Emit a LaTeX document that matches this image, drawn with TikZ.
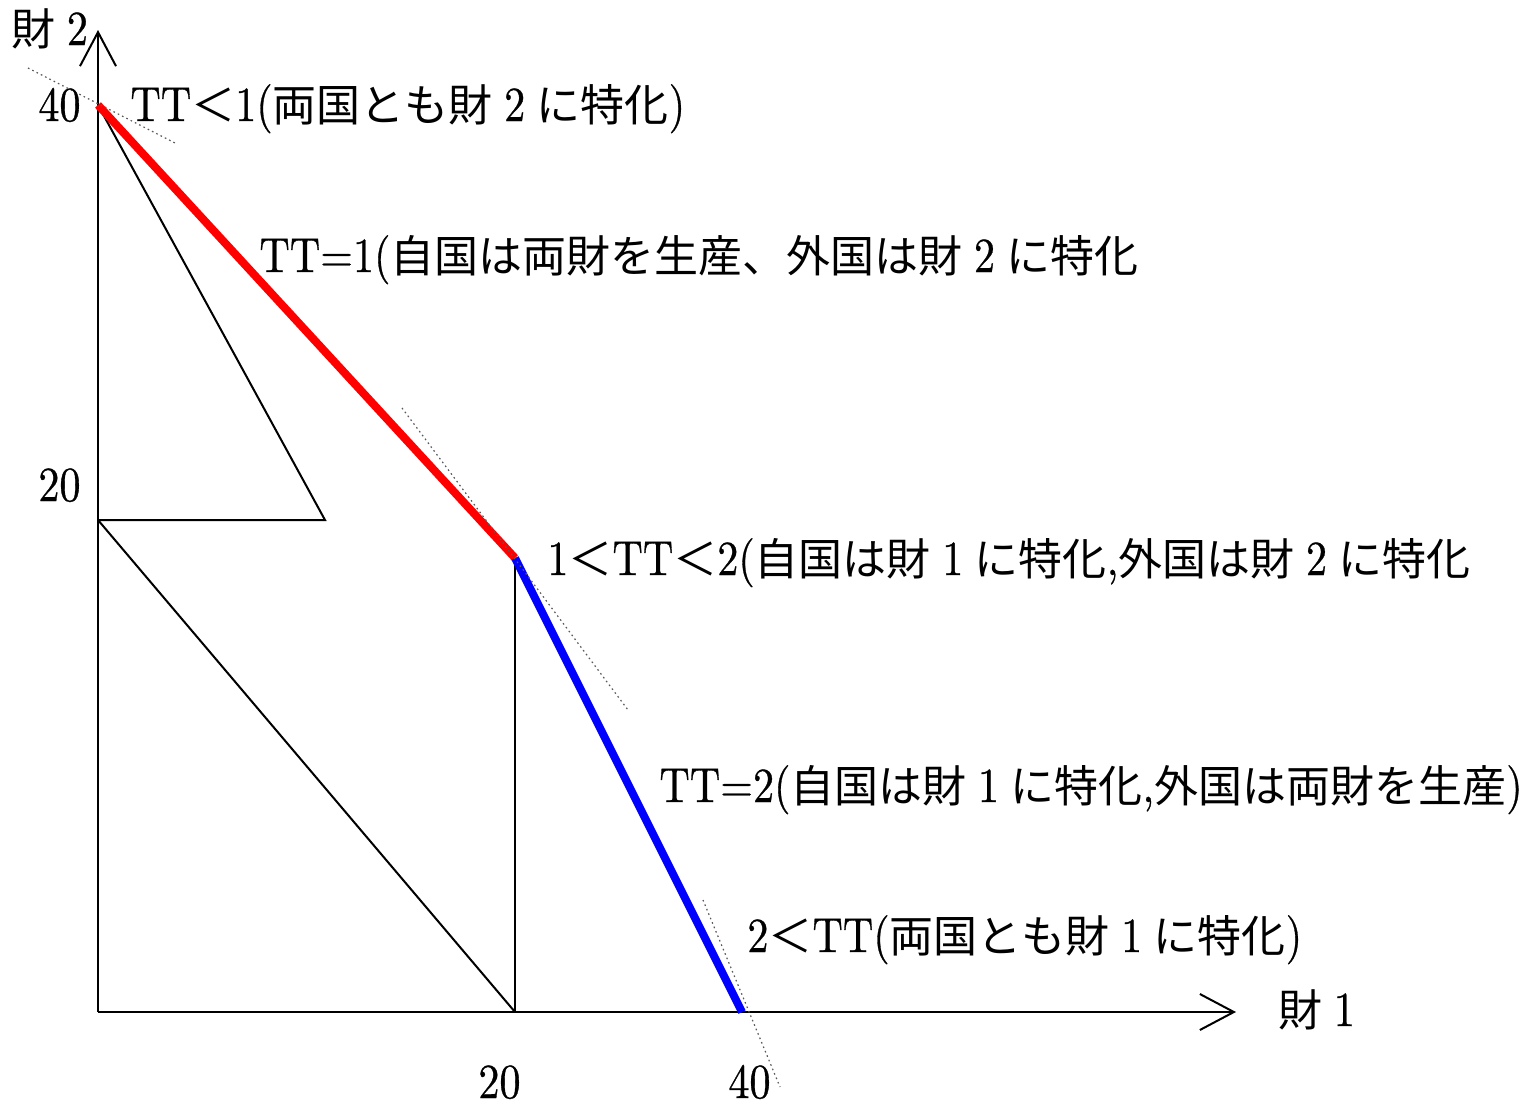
\documentclass[tikz,border=0pt]{standalone}
\usepackage{fontspec}
\usetikzlibrary{arrows.meta}
\newfontfamily\jpf{Noto Sans CJK JP}
\newfontfamily\latf{lmroman10-regular.otf}[FakeStretch=0.86,FakeBold=0.6]
\newcommand\J[1]{{\jpf\fontsize{22}{27}\selectfont #1}}
\newcommand\fw[1]{\makebox[22pt][c]{#1}}
\begin{document}
\begin{tikzpicture}[x=0.5pt,y=-0.5pt,
  lbl/.style={inner sep=0pt,anchor=base west,font=\latf\fontsize{24.5}{30}\selectfont},
  axisline/.style={line width=1pt,black,-{Straight Barb[length=17pt,width=18pt,line width=1pt]}},
  plainline/.style={line width=1pt,black},
  redline/.style={line width=4pt,red},
  blueline/.style={line width=4pt,blue},
  tangent/.style={line width=0.6pt,black!65,dash pattern=on 0.8pt off 1.6pt}]
\useasboundingbox (0,0) rectangle (1530,1108);
\fill[white] (0,0) rectangle (1530,1108);
% points
\coordinate (O) at (98,1012);
\coordinate (Ytip) at (98,30);
\coordinate (Xtip) at (1236,1012);
\coordinate (A) at (98,105);
\coordinate (B) at (325,520);
\coordinate (C) at (98,520);
\coordinate (K) at (515,558);
\coordinate (Kb) at (515,1012);
\coordinate (D) at (742,1012);
\coordinate (t1a) at (28,68);
\coordinate (t1b) at (175,143);
\coordinate (t2a) at (402,408);
\coordinate (t2b) at (628,710);
\coordinate (t3a) at (703,900);
\coordinate (t3b) at (780,1087);
% axes
\draw[axisline] (O) -- (Ytip);
\draw[axisline] (O) -- (Xtip);
% black lines
\draw[plainline] (A) -- (B) -- (C);
\draw[plainline] (C) -- (Kb);
\draw[plainline] (K) -- (Kb);
% frontier
\draw[redline] (A) -- (K);
\draw[blueline] (K) -- (D);
% tangents
\draw[tangent] (t1a) -- (t1b);
\draw[tangent] (t2a) -- (t2b);
\draw[tangent] (t3a) -- (t3b);
% labels
\node[lbl] (ylab) at (11,45) {\J{財}\fw{2}};
\node[lbl] (xlab) at (1278,1026) {\J{財}\fw{1}};
\node[lbl] (y40) at (38,121) {40};
\node[lbl] (y20) at (38,501) {20};
\node[lbl] (x20) at (478,1098) {20};
\node[lbl] (x40) at (728,1098) {40};
\node[lbl] (l1) at (130,121) {TT\J{＜}1(\J{両国とも財}\fw{2}\J{に特化})};
\node[lbl] (l2) at (259,272) {TT=1(\J{自国は両財を生産、外国は財}\fw{2}\J{に特化}};
\node[lbl] (l3) at (547,575) {1\J{＜}TT\J{＜}2(\J{自国は財}\fw{1}\J{に特化},\J{外国は財}\fw{2}\J{に特化}};
\node[lbl] (l4) at (659,802) {TT=2(\J{自国は財}\fw{1}\J{に特化},\J{外国は両財を生産})};
\node[lbl] (l5) at (747,952) {2\J{＜}TT(\J{両国とも財}\fw{1}\J{に特化})};
\end{tikzpicture}
\end{document}
